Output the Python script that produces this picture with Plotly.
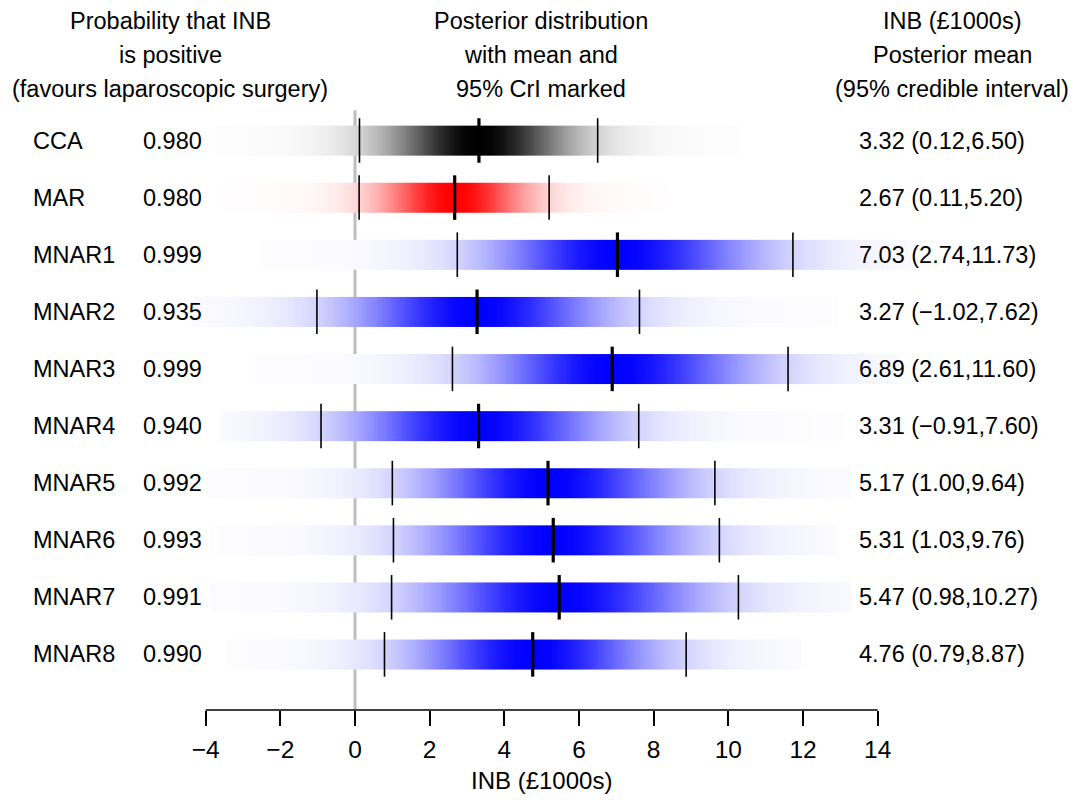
import numpy as np
import plotly.graph_objects as go

# ---------------- data ----------------
models = ["CCA", "MAR", "MNAR1", "MNAR2", "MNAR3", "MNAR4", "MNAR5", "MNAR6", "MNAR7", "MNAR8"]
prob_positive = ["0.980", "0.980", "0.999", "0.935", "0.999", "0.940", "0.992", "0.993", "0.991", "0.990"]
post_mean = [3.32, 2.67, 7.03, 3.27, 6.89, 3.31, 5.17, 5.31, 5.47, 4.76]
cri_low = [0.12, 0.11, 2.74, -1.02, 2.61, -0.91, 1.00, 1.03, 0.98, 0.79]
cri_high = [6.50, 5.20, 11.73, 7.62, 11.60, 7.60, 9.64, 9.76, 10.27, 8.87]
# visible extent of each density strip
strip_from = [-3.75, -3.56, -2.54, -4.4, -2.68, -3.6, -3.97, -3.85, -3.9, -3.43]
strip_to = [10.3, 8.4, 15.0, 12.9, 14.6, 13.1, 13.3, 12.9, 13.3, 12.0]
strip_colour = ["#000000", "#FF0000"] + ["#0000FF"] * 8
tick_vals = [-4, -2, 0, 2, 4, 6, 8, 10, 12, 14]
x_title = "INB (£1000s)"
header_left = ["Probability that INB", "is positive", "(favours laparoscopic surgery)"]
header_mid = ["Posterior distribution", "with mean and", "95% CrI marked"]
header_right = ["INB (£1000s)", "Posterior mean", "(95% credible interval)"]

# ---------------- layout constants ----------------
W, H = 1073, 800
M_T, M_B = 105, 90
PX0, PX_PER = 355.0, 37.333          # pixel of x=0, pixels per unit
X_RANGE = [-PX0 / PX_PER, (W - PX0) / PX_PER]
ROW_PX0, ROW_PX = 140.5, 57.1
Y_TOP = (M_T - ROW_PX0) / ROW_PX
Y_BOT = (H - M_B - ROW_PX0) / ROW_PX
STRIP_H = 0.52
MARK_H = 0.39
FONT = "Liberation Sans, Arial, Helvetica, sans-serif"
FS = 23.5

def fmt(v):
    return f"{v:.2f}".replace("-", "\u2212")

def paper_y(px):
    return (H - M_B - px) / (H - M_T - M_B)

fig = go.Figure()

# density strips (colour intensity follows the posterior density shape)
for i in range(len(models)):
    m, lo, hi = post_mean[i], cri_low[i], cri_high[i]
    sl, sr = (m - lo) / 1.96, (hi - m) / 1.96
    edges = np.arange(strip_from[i], strip_to[i] + 1e-9, 0.05)
    mids = (edges[:-1] + edges[1:]) / 2
    s = np.where(mids < m, sl, sr)
    dens = np.exp(-0.5 * ((mids - m) / s) ** 2)
    shade = 0.95 * dens + 0.05 * dens ** 0.2
    fig.add_trace(go.Heatmap(
        x=edges, y=[i - STRIP_H / 2, i + STRIP_H / 2], z=[shade],
        zmin=0, zmax=1, colorscale=[[0, "#FFFFFF"], [1, strip_colour[i]]],
        showscale=False, hoverinfo="skip"))

# interval marks (thin) and mean marks (thick)
cx, cy, mx, my = [], [], [], []
for i in range(len(models)):
    for v in (cri_low[i], cri_high[i]):
        cx += [v, v, None]
        cy += [i - MARK_H, i + MARK_H, None]
    mx += [post_mean[i], post_mean[i], None]
    my += [i - MARK_H, i + MARK_H, None]
fig.add_trace(go.Scatter(x=cx, y=cy, mode="lines", line=dict(color="black", width=1.6),
                         hoverinfo="skip", showlegend=False))
fig.add_trace(go.Scatter(x=mx, y=my, mode="lines", line=dict(color="black", width=3.2),
                         hoverinfo="skip", showlegend=False))

shapes = [
    dict(type="line", xref="x", yref="y", x0=0, x1=0, y0=-0.53, y1=Y_BOT,
         line=dict(color="#BEBEBE", width=3), layer="below"),
    dict(type="line", xref="x", yref="paper", x0=tick_vals[0], x1=tick_vals[-1], y0=0, y1=0,
         line=dict(color="black", width=1.5), layer="above"),
]

ann = []
for i in range(len(models)):
    ann.append(dict(text=models[i], xref="paper", x=31 / W, xanchor="left",
                    yref="y", y=i, yanchor="middle", showarrow=False))
    ann.append(dict(text=prob_positive[i], xref="paper", x=172 / W, xanchor="center",
                    yref="y", y=i, yanchor="middle", showarrow=False))
    ann.append(dict(text=f"{fmt(post_mean[i])} ({fmt(cri_low[i])},{fmt(cri_high[i])})",
                    xref="paper", x=857 / W, xanchor="left",
                    yref="y", y=i, yanchor="middle", showarrow=False))
for k, py in enumerate([21, 55, 89]):
    ann.append(dict(text=header_left[k], xref="paper", x=170 / W, xanchor="center",
                    yref="paper", y=paper_y(py), yanchor="middle", showarrow=False))
    ann.append(dict(text=header_mid[k], xref="paper", x=541 / W, xanchor="center",
                    yref="paper", y=paper_y(py), yanchor="middle", showarrow=False))
    ann.append(dict(text=header_right[k], xref="paper", x=952 / W, xanchor="center",
                    yref="paper", y=paper_y(py), yanchor="middle", showarrow=False))
ann.append(dict(text=x_title, xref="x", x=(tick_vals[0] + tick_vals[-1]) / 2, xanchor="center",
                yref="paper", y=paper_y(780), yanchor="middle", showarrow=False,
                font=dict(size=24)))

fig.update_layout(
    width=W, height=H,
    margin=dict(l=0, r=0, t=M_T, b=M_B, pad=0),
    paper_bgcolor="white", plot_bgcolor="white",
    font=dict(family=FONT, size=FS, color="black"),
    showlegend=False,
    shapes=shapes,
    annotations=ann,
    xaxis=dict(range=X_RANGE, tickvals=tick_vals, ticks="outside", ticklen=15, tickwidth=1.5,
               tickcolor="black", showgrid=False, zeroline=False, showline=False,
               tickfont=dict(family=FONT, size=24.5, color="black"), ticklabelstandoff=3,
               fixedrange=True),
    yaxis=dict(range=[Y_BOT, Y_TOP], visible=False, showgrid=False, zeroline=False,
               fixedrange=True),
)

fig.write_html("out.html", config={"displayModeBar": False})
